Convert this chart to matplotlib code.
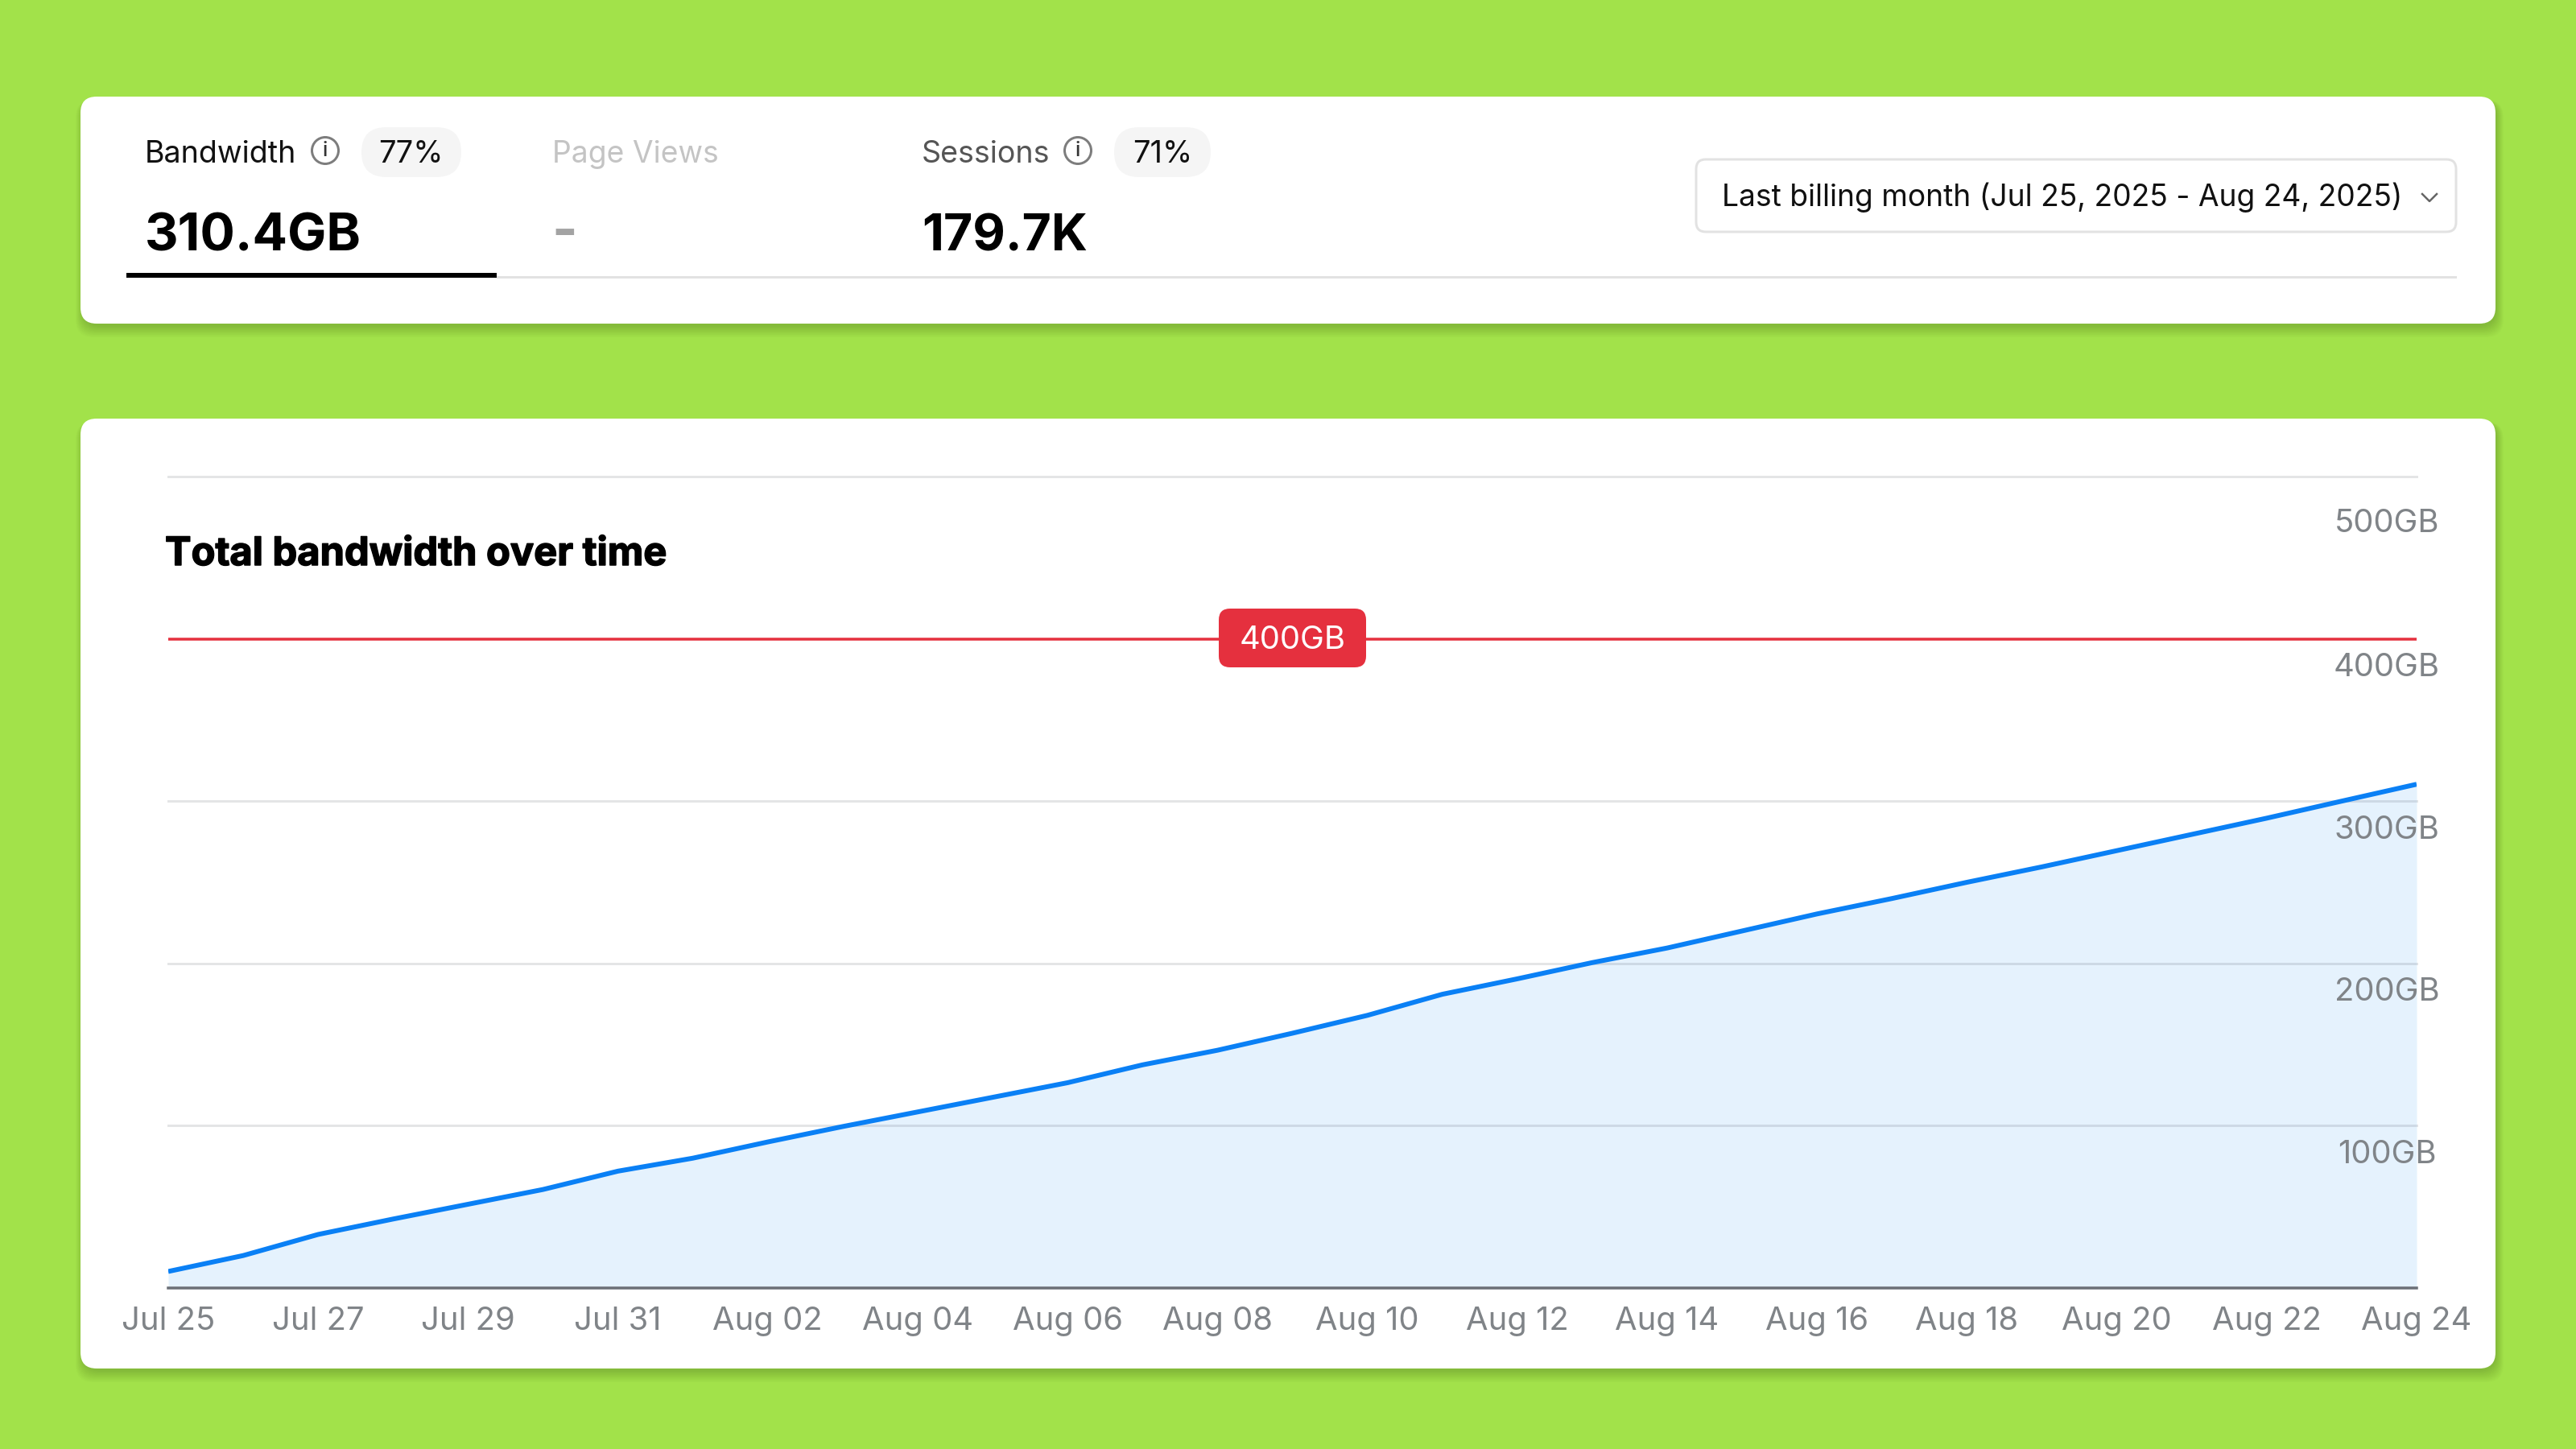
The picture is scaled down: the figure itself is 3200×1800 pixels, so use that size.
from matplotlib import pyplot as plt
from matplotlib import patheffects
from matplotlib.patches import FancyBboxPatch, Rectangle, Circle

plt.rcParams['font.family'] = ['Inter', 'DejaVu Sans']

# values, one per day, Jul 25 .. Aug 24 (GB)
days = list(range(31))
bandwidth = [10.2, 20, 33, 42.5, 51.6, 60.7, 72, 80, 90, 99.5, 108.5, 117.5, 126.5, 137.5, 146.5, 157,
             168, 181, 190.5, 200.5, 209.5, 220, 230.5, 240, 250, 259.5, 269.5, 279.5, 289.5, 300, 310.4]
tick_days = list(range(0, 31, 2))
tick_labels = ['Jul 25', 'Jul 27', 'Jul 29', 'Jul 31', 'Aug 02', 'Aug 04', 'Aug 06', 'Aug 08',
               'Aug 10', 'Aug 12', 'Aug 14', 'Aug 16', 'Aug 18', 'Aug 20', 'Aug 22', 'Aug 24']
grid_values = [100, 200, 300, 500]
y_labels = [100, 200, 300, 400, 500]
limit_gb = 400

W, H = 3200, 1800
GREEN = '#A2E24A'
RED = '#E5303E'
BLUE = '#0A80F5'
GREY = '#808488'


def pt(px):
    # font sizes and line widths are worked out in picture pixels
    return px * 72 / 200


def round_box(a, x0, y0, x1, y1, r, **kw):
    a.add_patch(FancyBboxPatch((x0 + r, y0 + r), x1 - x0 - 2 * r, y1 - y0 - 2 * r,
                               boxstyle='round,pad=%s,rounding_size=%s' % (r, r), **kw))


def card(a, y0, y1):
    # soft shadow, then the white card
    for i in range(10):
        round_box(a, 100 - 6 + i, y0 + 4, 3100 + 10 - i, y1 + 17 - i * 1.5, 22,
                  fc='black', ec='none', alpha=0.015)
    round_box(a, 100, y0, 3100, y1, 20, fc='white', ec='none')


def info_icon(a, x, y):
    a.add_patch(Circle((x, y), 16.5, fc='none', ec='#7d7d7d', lw=pt(3)))
    a.text(x, y + 1, 'i', fontsize=pt(25), color='#333333', ha='center', va='center', fontweight='medium')


fig = plt.figure(figsize=(16, 9), dpi=200, facecolor=GREEN)

page = fig.add_axes([0, 0, 1, 1], zorder=0)
page.set_xlim(0, W)
page.set_ylim(H, 0)
page.axis('off')

card(page, 120, 402)
card(page, 520, 1700)

# top card
page.text(180, 192, 'Bandwidth', fontsize=pt(37.6), color='#111111', va='center')
info_icon(page, 404, 187)
round_box(page, 449, 158, 573, 220, 31, fc='#F5F5F5', ec='none')
page.text(510, 192, '77%', fontsize=pt(38), color='#111111', ha='center', va='center')

page.text(686, 192, 'Page Views', fontsize=pt(37.3), color='#C4C4C4', va='center')

page.text(1145, 192, 'Sessions', fontsize=pt(37.6), color='#555555', va='center')
info_icon(page, 1339, 187)
round_box(page, 1384, 158, 1504, 220, 31, fc='#F5F5F5', ec='none')
page.text(1444, 192, '71%', fontsize=pt(38), color='#111111', ha='center', va='center')

page.text(180, 295, '310.4GB', fontsize=pt(64.5), color='black', fontweight='bold', va='center')
page.text(685, 291, '-', fontsize=pt(68), color='#A3A3A3', fontweight='bold', va='center')
page.text(1145, 295, '179.7K', fontsize=pt(62.5), color='black', fontweight='bold', va='center')

page.add_patch(Rectangle((617, 342.5), 2435, 3, fc='#E2E2E2', ec='none'))
page.add_patch(Rectangle((157, 339), 460, 6, fc='black', ec='none'))

round_box(page, 2107, 198, 3051, 288, 12, fc='white', ec='#E2E2E2', lw=pt(3))
page.text(2139, 245, 'Last billing month (Jul 25, 2025 - Aug 24, 2025)', fontsize=pt(37.2),
          color='#111111', va='center')
page.plot([3009, 3018, 3027], [241, 250, 241], color='#666666', lw=pt(2.5))

title = page.text(205, 689, 'Total bandwidth over time', fontsize=pt(48.8), color='black',
                  fontweight='bold', va='center')
title.set_path_effects([patheffects.withStroke(linewidth=pt(1.5), foreground='black')])

# chart
left, right, top, bottom = 209, 3002, 592, 1600
ax = fig.add_axes([left / W, 1 - bottom / H, (right - left) / W, (bottom - top) / H], zorder=1)
ax.patch.set_alpha(0)
ax.set_xlim(0, 30)
ax.set_ylim(0, 500)
for s in ax.spines:
    ax.spines[s].set_visible(False)
ax.spines['bottom'].set_visible(True)
ax.spines['bottom'].set_color('#6B6F76')
ax.spines['bottom'].set_linewidth(pt(3.5))

ax.fill_between(days, bandwidth, color='#E5F2FD', lw=0, zorder=1)
for g in grid_values:
    ax.axhline(g, color='#303844', alpha=0.13, lw=pt(3), zorder=2, clip_on=False)
ax.axhline(limit_gb, color=RED, lw=pt(3.5), zorder=2)
ax.plot(days, bandwidth, color=BLUE, lw=pt(6), solid_capstyle='butt', zorder=3)

ax.set_xticks(tick_days)
ax.set_xticklabels(tick_labels, fontsize=pt(40), color=GREY)
ax.tick_params(axis='x', length=0, pad=pt(23))
ax.set_yticks([])

for v in y_labels:
    # labels hang under their gridline, the top one sits lower still
    drop = 59 if v == 500 else 36
    ax.annotate('%dGB' % v, xy=(1, v), xycoords=('axes fraction', 'data'),
                xytext=(pt(-37), pt(-drop)), textcoords='offset points',
                fontsize=pt(40), color=GREY, ha='center', va='center', annotation_clip=False)

# 400GB limit badge on top of the line
overlay = fig.add_axes([0, 0, 1, 1], zorder=2)
overlay.set_xlim(0, W)
overlay.set_ylim(H, 0)
overlay.axis('off')
round_box(overlay, 1514, 756, 1697, 829, 14, fc=RED, ec='none')
overlay.text(1605.5, 795, '%dGB' % limit_gb, fontsize=pt(40), color='white', ha='center', va='center')

plt.savefig('out.png', dpi=200, facecolor=GREEN)
